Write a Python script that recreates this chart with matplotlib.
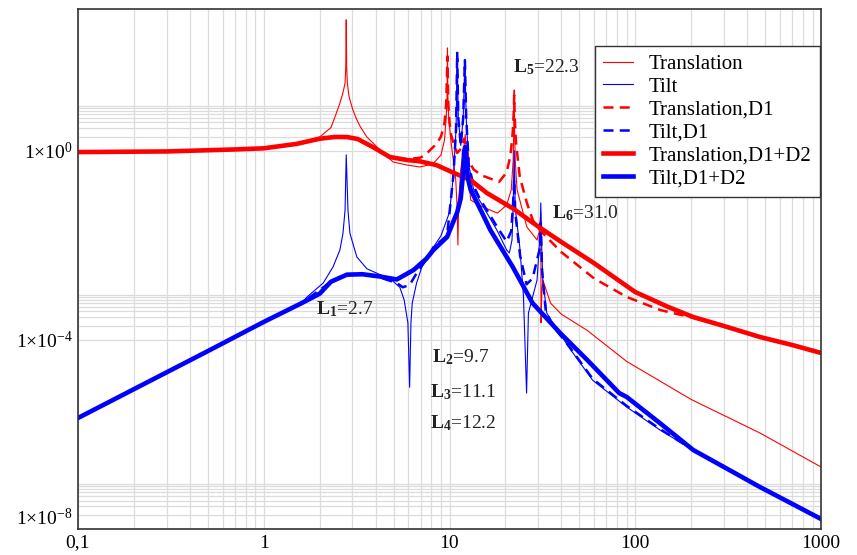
import matplotlib
matplotlib.use('Agg')
import matplotlib.pyplot as plt
from matplotlib.ticker import FixedLocator, FixedFormatter, NullFormatter

plt.rcParams['font.family'] = ['Liberation Serif', 'DejaVu Serif']
plt.rcParams['mathtext.fontset'] = 'custom'
plt.rcParams['mathtext.rm'] = 'Liberation Serif'
plt.rcParams['mathtext.bf'] = 'Liberation Serif:bold'
plt.rcParams['mathtext.it'] = 'Liberation Serif:italic'

# (frequency, amplitude)
translation = [
    (0.1, 0.95), (0.3, 0.98), (0.7, 1.08), (1.0, 1.15), (1.5, 1.45), (2.0, 1.96),
    (2.3, 3.1), (2.45, 6), (2.57, 10.2), (2.67, 17), (2.74, 27), (2.765, 60), (2.78, 590),
    (2.795, 60), (2.82, 27), (2.87, 15), (2.91, 12), (3.02, 7.3), (3.15, 4.8), (3.3, 3.3),
    (3.59, 1.96), (4.23, 1.04), (4.97, 0.58), (5.9, 0.5), (6.93, 0.455), (8.15, 0.53),
    (9.0, 0.82), (9.4, 1.7), (9.6, 5), (9.7, 15), (9.75, 150), (9.8, 15), (9.9, 5),
    (10.2, 1.5), (10.5, 0.6), (10.8, 0.25), (11.0, 0.06), (11.1, 0.0102), (11.2, 0.08),
    (11.5, 0.4), (11.9, 1.0), (12.15, 2.2), (12.4, 0.8), (13.0, 0.091), (14.5, 0.07),
    (18.1, 0.048), (20.3, 0.071), (21.5, 0.15), (22.0, 0.6), (22.2, 3), (22.3, 19.4),
    (22.4, 3), (22.6, 0.6), (23.1, 0.15), (26.1, 0.0245), (29.6, 0.013), (30.5, 0.02),
    (31.0, 0.048), (31.1, 2.3e-4), (31.4, 1e-3), (31.8, 1.85e-3), (35, 6e-4), (40, 3.5e-4),
    (55, 1.6e-4), (90, 3.5e-5), (200, 5.5e-6), (470, 1.07e-6), (1000, 2.05e-7),
]
tilt = [
    (0.1, 2.23e-6), (0.5, 5.8e-5), (1.0, 2.4e-4), (1.6, 6e-4), (1.71, 8.1e-4),
    (2.09, 1.6e-3), (2.36, 3.5e-3), (2.57, 8e-3), (2.67, 0.018), (2.74, 0.056),
    (2.78, 0.82), (2.84, 0.056), (2.91, 0.018), (3.17, 5.7e-3), (3.59, 3.2e-3),
    (4.23, 2.4e-3), (4.77, 2e-3), (5.4, 1.3e-3), (5.7, 7e-4), (5.97, 2.3e-4), (6.1, 1e-5),
    (6.2, 2.3e-4), (6.3, 6e-4), (6.65, 1.6e-3), (7.1, 3.5e-3), (8.2, 9.2e-3), (9.0, 0.016),
    (10.0, 0.05), (10.5, 0.3), (10.85, 3), (11.0, 123), (11.15, 5), (11.5, 1.3),
    (11.85, 5), (12.1, 83), (12.3, 5), (12.7, 0.5), (13.5, 0.15), (14.5, 0.09),
    (18.0, 0.021), (20.3, 0.008), (21.0, 0.0069), (21.7, 0.013), (22.0, 0.06), (22.3, 1.0),
    (22.6, 0.06), (23.9, 0.0092), (25.0, 8.8e-4), (26.0, 7.5e-6), (26.6, 3.7e-4),
    (29.6, 1.85e-3), (30.8, 0.02), (31.0, 0.079), (31.4, 0.008), (31.8, 1.85e-3),
    (33.4, 3.7e-4), (36, 2.3e-4), (45, 6.1e-5), (59, 1.4e-5), (90, 3.8e-6),
    (136, 1.24e-6), (205, 4.7e-7), (300, 2.05e-7), (470, 7.7e-8), (700, 3.4e-8), (1000, 1.63e-8),
]
translation_d1 = [
    (0.1, 0.94), (0.3, 0.97), (0.7, 1.07), (1.0, 1.13), (1.5, 1.4), (2.0, 1.8),
    (2.4, 1.96), (2.8, 1.96), (3.2, 1.78), (3.87, 1.2), (4.77, 0.74), (5.9, 0.66),
    (7.0, 0.72), (7.5, 0.86), (8.5, 1.4), (9.0, 2.0), (9.4, 3.9), (9.6, 10), (9.75, 100),
    (9.85, 10), (10.0, 4), (10.2, 2.2), (10.6, 1.3), (11.0, 0.9), (11.5, 1.1), (12.0, 1.8),
    (12.3, 1.2), (12.7, 0.6), (13.5, 0.4), (15, 0.3), (18.5, 0.22), (20.3, 0.35),
    (21.3, 0.8), (21.9, 2.5), (22.15, 6), (22.3, 15), (22.45, 5), (22.8, 1.5), (23.9, 0.28),
    (26.1, 0.079), (28.1, 0.034), (31, 0.02), (40, 0.0072), (60, 0.002), (90, 8.1e-4),
    (136, 4.3e-4), (200, 3e-4), (300, 1.97e-4), (470, 1.15e-4), (700, 7.8e-5), (1000, 5.3e-5),
]
tilt_d1 = [
    (0.1, 2.23e-6), (0.5, 5.8e-5), (1.0, 2.4e-4), (1.6, 6e-4), (2.3, 1.7e-3),
    (2.8, 2.4e-3), (3.4, 2.45e-3), (4.2, 2.1e-3), (5.2, 1.6e-3), (5.6, 1.3e-3),
    (6.1, 1.45e-3), (6.7, 2.7e-3), (7.5, 5e-3), (8.2, 9.2e-3), (9.7, 0.016), (10.5, 0.3),
    (10.85, 3), (11.0, 123), (11.15, 5), (11.5, 1.3), (11.85, 5), (12.1, 83), (12.3, 5),
    (12.7, 0.5), (13.5, 0.18), (14.5, 0.1), (18.0, 0.025), (20.3, 0.012), (21.5, 0.02),
    (22.0, 0.08), (22.3, 0.25), (22.6, 0.05), (24.0, 0.006), (26.0, 0.0015), (28.0, 0.002),
    (30.5, 0.008), (31.0, 0.03), (31.5, 0.003), (33.0, 4e-4), (36, 2e-4), (45, 6.5e-5),
    (59, 1.5e-5), (90, 4e-6), (136, 1.3e-6), (205, 4.7e-7), (300, 2.05e-7), (470, 7.7e-8),
    (700, 3.4e-8), (1000, 1.63e-8),
]
translation_d12 = [
    (0.1, 0.94), (0.3, 0.97), (0.7, 1.07), (1.0, 1.13), (1.5, 1.4), (2.0, 1.8),
    (2.4, 1.96), (2.8, 1.96), (3.2, 1.78), (3.87, 1.2), (4.77, 0.74), (5.9, 0.64),
    (6.9, 0.6), (8.5, 0.5), (10.4, 0.35), (13, 0.24), (15.9, 0.128), (22, 0.06),
    (29.6, 0.026), (40, 0.0118), (60, 0.0042), (100, 1.03e-3), (150, 5e-4), (205, 3.05e-4),
    (300, 1.97e-4), (470, 1.15e-4), (700, 7.8e-5), (1000, 5.3e-5),
]
tilt_d12 = [
    (0.1, 2.23e-6), (0.5, 5.8e-5), (1.0, 2.4e-4), (1.6, 6e-4), (2.0, 9.5e-4),
    (2.3, 1.7e-3), (2.8, 2.4e-3), (3.4, 2.45e-3), (4.2, 2.2e-3), (5.2, 1.9e-3),
    (6.4, 3e-3), (7.5, 5.2e-3), (8.2, 8e-3), (9.7, 0.015), (11.0, 0.05), (11.5, 0.1),
    (11.8, 0.3), (12.0, 1.0), (12.15, 1.2), (12.3, 0.6), (12.6, 0.25), (13.0, 0.149),
    (15, 0.048), (16.6, 0.021), (21.9, 3.5e-3), (28, 6e-4), (39.4, 1.4e-4), (55, 3.8e-5),
    (82, 7.5e-6), (90, 6.2e-6), (136, 1.73e-6), (205, 4.7e-7), (300, 2.05e-7),
    (470, 7.7e-8), (700, 3.4e-8), (1000, 1.63e-8),
]

x_ticks = [0.1, 1, 10, 100, 1000]
x_labels = ['0,1', '1', '10', '100', '1000']
y_ticks = [1e-8, 1e-4, 1e0]
y_labels = [r'$1{\times}10^{-8}$', r'$1{\times}10^{-4}$', r'$1{\times}10^{0}$']

fig = plt.figure(figsize=(8.57, 5.55), dpi=100)
ax = fig.add_axes([78 / 857, 26 / 555, 743 / 857, 520 / 555])
ax.set_xscale('log')
ax.set_yscale('log')

red, blue = '#ff0000', '#0000ff'
series = [
    (translation, red, 0.8, '-', 'Translation'),
    (tilt, blue, 0.8, '-', 'Tilt'),
    (translation_d1, red, 1.8, '--', 'Translation,D1'),
    (tilt_d1, blue, 1.8, '--', 'Tilt,D1'),
    (translation_d12, red, 3.3, '-', 'Translation,D1+D2'),
    (tilt_d12, blue, 3.3, '-', 'Tilt,D1+D2'),
]
for pts, c, lw, ls, lab in series:
    f, a = zip(*pts)
    line, = ax.plot(f, a, color=c, lw=lw, ls=ls, label=lab)
    if ls == '--':
        line.set_dashes((4, 2.5))

ax.set_xlim(0.1, 1000)
ax.set_ylim(1e-8, 1e3)

ax.xaxis.set_major_locator(FixedLocator(x_ticks))
ax.xaxis.set_major_formatter(FixedFormatter(x_labels))
ax.xaxis.set_minor_locator(FixedLocator([m * d for d in [0.1, 1, 10, 100] for m in range(2, 10)]))
ax.xaxis.set_minor_formatter(NullFormatter())
ax.yaxis.set_major_locator(FixedLocator(y_ticks))
ax.yaxis.set_major_formatter(FixedFormatter(y_labels))
ax.yaxis.set_minor_locator(FixedLocator([m * d for d in y_ticks for m in range(2, 10)]))
ax.yaxis.set_minor_formatter(NullFormatter())
ax.tick_params(which='both', length=0, labelsize=14)
ax.tick_params(axis='x', pad=4)
ax.tick_params(axis='y', pad=4)
ax.grid(which='both', color='#dcdcdc', lw=0.9)
ax.set_axisbelow(True)
for s in ax.spines.values():
    s.set_color('#333333')
    s.set_linewidth(1.2)

# bottom y label sits above the corner so it does not touch "0,1"
fig.canvas.draw()
ax.get_yticklabels()[0].set_va('bottom')

leg = ax.legend(loc='upper right', bbox_to_anchor=(0.9987, 0.929), fontsize=15,
                frameon=True, fancybox=False, framealpha=1, edgecolor='#333333',
                borderpad=0.4, labelspacing=0.16, handlelength=1.45,
                handletextpad=0.75, borderaxespad=0)
leg.get_frame().set_linewidth(1.0)

labels = [
    (1.91, 3.4e-4, r'$\mathbf{L_1}$=2.7'),
    (8.05, 3.4e-5, r'$\mathbf{L_2}$=9.7'),
    (7.85, 6.2e-6, r'$\mathbf{L_3}$=11.1'),
    (7.85, 1.37e-6, r'$\mathbf{L_4}$=12.2'),
    (22.0, 46.5, r'$\mathbf{L_5}$=22.3'),
    (35.6, 0.038, r'$\mathbf{L_6}$=31.0'),
]
for x, y, t in labels:
    ax.text(x, y, t, fontsize=14, ha='left', va='baseline', color='#222222')

fig.savefig('out.png', dpi=100)
